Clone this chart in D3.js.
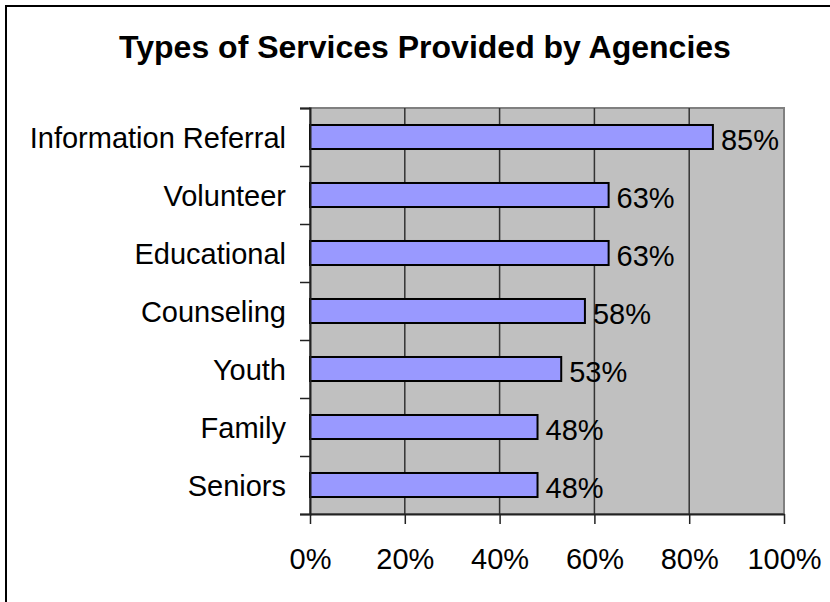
<!DOCTYPE html>
<html>
<head>
<meta charset="utf-8">
<script src="https://cdn.jsdelivr.net/npm/d3@7"></script>
<style>
  body { margin: 0; background: #fff; }
  svg { display: block; font-family: "Liberation Sans", Arial, sans-serif; }
</style>
</head>
<body>
<svg id="chart"></svg>
<script>
// data
const categories = ["Information Referral", "Volunteer", "Educational", "Counseling", "Youth", "Family", "Seniors"];
const values = [0.85, 0.63, 0.63, 0.58, 0.53, 0.48, 0.48];
const xTicks = [0, 0.2, 0.4, 0.6, 0.8, 1.0];
const title = "Types of Services Provided by Agencies";

const W = 830, H = 602;
const plot = { left: 310, right: 784, top: 108, bottom: 514 };

const svg = d3.select("#chart").attr("width", W).attr("height", H);

// outer chart border (only top / left visible in the picture)
svg.append("rect")
   .attr("x", 6).attr("y", 6)
   .attr("width", W + 10).attr("height", H + 10)
   .attr("fill", "#fff")
   .attr("stroke", "#000")
   .attr("stroke-width", 2);

// title
svg.append("text")
   .attr("x", 425).attr("y", 58)
   .attr("text-anchor", "middle")
   .attr("font-size", 32)
   .attr("font-weight", "bold")
   .text(title);

// scales
const x = d3.scaleLinear().domain([0, 1]).range([plot.left, plot.right]);
const y = d3.scaleBand()
            .domain(categories)
            .range([plot.top, plot.bottom])
            .paddingInner(0.586)
            .paddingOuter(0.293);
const yIdx = d3.scaleLinear().domain([0, categories.length]).range([plot.top, plot.bottom]);

// plot background
svg.append("rect")
   .attr("x", plot.left).attr("y", plot.top)
   .attr("width", plot.right - plot.left).attr("height", plot.bottom - plot.top)
   .attr("fill", "#c0c0c0")
   .attr("stroke", "#808080")
   .attr("stroke-width", 2);

// vertical gridlines
svg.append("g")
   .selectAll("line")
   .data(xTicks.slice(1, -1))
   .enter().append("line")
   .attr("x1", d => x(d)).attr("x2", d => x(d))
   .attr("y1", plot.top).attr("y2", plot.bottom)
   .attr("stroke", "#333")
   .attr("stroke-width", 1.5);

// bars
svg.selectAll(".bar")
   .data(categories)
   .enter().append("rect")
   .attr("class", "bar")
   .attr("x", x(0))
   .attr("y", d => y(d))
   .attr("width", (d, i) => x(values[i]) - x(0))
   .attr("height", y.bandwidth())
   .attr("fill", "#9999ff")
   .attr("stroke", "#000")
   .attr("stroke-width", 2);

// value labels
svg.selectAll(".val")
   .data(categories)
   .enter().append("text")
   .attr("class", "val")
   .attr("x", (d, i) => x(values[i]) + 8)
   .attr("y", d => y(d) + y.bandwidth() / 2)
   .attr("dy", "0.45em")
   .attr("font-size", 29)
   .text((d, i) => d3.format(".0%")(values[i]));

// category axis: ticks between categories
const yAxis = svg.append("g")
   .attr("transform", `translate(${plot.left},0)`)
   .call(d3.axisLeft(yIdx).ticks(categories.length).tickSize(10).tickFormat(""));
yAxis.select(".domain").attr("stroke", "#222").attr("stroke-width", 2);
yAxis.selectAll(".tick line").attr("stroke", "#222").attr("stroke-width", 1.5);

// category labels
svg.selectAll(".cat")
   .data(categories)
   .enter().append("text")
   .attr("class", "cat")
   .attr("x", 286)
   .attr("y", d => y(d) + y.bandwidth() / 2)
   .attr("dy", "0.38em")
   .attr("text-anchor", "end")
   .attr("font-size", 29)
   .text(d => d);

// value axis
const xAxis = svg.append("g")
   .attr("transform", `translate(0,${plot.bottom})`)
   .call(d3.axisBottom(x).tickValues(xTicks).tickSize(10).tickSizeOuter(0).tickPadding(24)
           .tickFormat(d3.format(".0%")));
xAxis.select(".domain").attr("stroke", "#222").attr("stroke-width", 2);
xAxis.selectAll(".tick line").attr("stroke", "#222").attr("stroke-width", 1.5);
xAxis.selectAll(".tick text")
     .attr("font-size", 29)
     .attr("font-family", "Liberation Sans, Arial, sans-serif")
     .attr("fill", "#000");
</script>
</body>
</html>
